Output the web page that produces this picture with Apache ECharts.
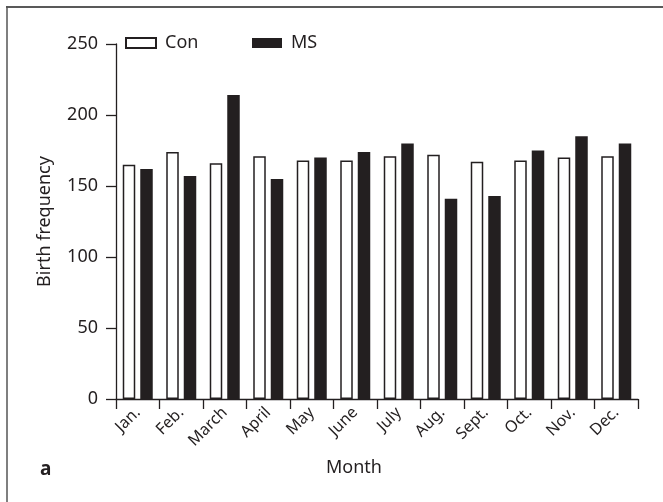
<!DOCTYPE html>
<html>
<head>
<meta charset="utf-8">
<title>Birth frequency by month</title>
<script src="https://cdn.jsdelivr.net/npm/echarts@6/dist/echarts.min.js"></script>
<style>
  html, body { margin: 0; padding: 0; background: #fff; }
  #chart { width: 663px; height: 502px; }
</style>
</head>
<body>
<div id="chart"></div>
<script>
// Months of birth
const months = ['Jan.', 'Feb.', 'March', 'April', 'May', 'June', 'July', 'Aug.', 'Sept.', 'Oct.', 'Nov.', 'Dec.'];
// Births per month, control group
const conValues = [165, 174, 166, 171, 168, 168, 171, 172, 167, 168, 170, 171];
// Births per month, MS group
const msValues = [162, 157, 214, 155, 170, 174, 180, 141, 143, 175, 185, 180];
// Value axis ticks
const yTicks = [0, 50, 100, 150, 200, 250];

const ink = '#231f20';
const font = '"Noto Sans", "Open Sans", sans-serif';

const chart = echarts.init(document.getElementById('chart'), null, { renderer: 'canvas' });

chart.setOption({
  backgroundColor: '#fff',
  animation: false,
  textStyle: { fontFamily: font, color: ink },
  grid: { left: 116, right: 25, top: 44, bottom: 103, containLabel: false },
  legend: [
    {
      data: ['Con'], left: 125, top: 34, padding: 0,
      itemWidth: 30, itemHeight: 10, icon: 'rect',
      textStyle: { fontFamily: font, fontSize: 18, color: ink, padding: [0, 0, 0, 4] }
    },
    {
      data: ['MS'], left: 252, top: 34, padding: 0,
      itemWidth: 30, itemHeight: 10, icon: 'rect',
      textStyle: { fontFamily: font, fontSize: 18, color: ink, padding: [0, 0, 0, 4] }
    }
  ],
  xAxis: {
    type: 'category',
    data: months,
    boundaryGap: true,
    axisLine: { lineStyle: { color: ink, width: 1.3 } },
    axisTick: { show: true, length: 10, alignWithLabel: false, lineStyle: { color: ink, width: 1.3 } },
    axisLabel: { rotate: 45, margin: 11, fontSize: 16, color: ink, fontFamily: font, interval: 0 },
    splitLine: { show: false }
  },
  yAxis: {
    type: 'value',
    min: yTicks[0],
    max: yTicks[yTicks.length - 1],
    interval: yTicks[1] - yTicks[0],
    axisLine: { show: true, lineStyle: { color: ink, width: 1.3 } },
    axisTick: { show: true, length: 10, lineStyle: { color: ink, width: 1.3 } },
    axisLabel: { margin: 18, fontSize: 18, color: ink, fontFamily: font },
    splitLine: { show: false },
    name: 'Birth frequency',
    nameLocation: 'middle',
    nameGap: 62,
    nameTextStyle: { fontSize: 18, color: ink, fontFamily: font }
  },
  series: [
    {
      name: 'Con',
      type: 'bar',
      data: conValues,
      barWidth: 12.5,
      barGap: '40%',
      itemStyle: { color: '#fff', borderColor: ink, borderWidth: 1.5 }
    },
    {
      name: 'MS',
      type: 'bar',
      data: msValues,
      barWidth: 12.5,
      itemStyle: { color: ink }
    }
  ],
  graphic: [
    // panel frame: top and left rules
    { type: 'line', shape: { x1: 6, y1: 7, x2: 663, y2: 7 }, style: { stroke: '#222', lineWidth: 1.5 } },
    { type: 'line', shape: { x1: 7, y1: 6, x2: 7, y2: 502 }, style: { stroke: '#555', lineWidth: 1.5 } },
    { type: 'text', left: 40, top: 460, style: { text: 'a', font: 'bold 19px ' + font, fill: ink } },
    { type: 'text', left: 326, top: 459, style: { text: 'Month', font: '18px ' + font, fill: ink } }
  ]
});
</script>
</body>
</html>
